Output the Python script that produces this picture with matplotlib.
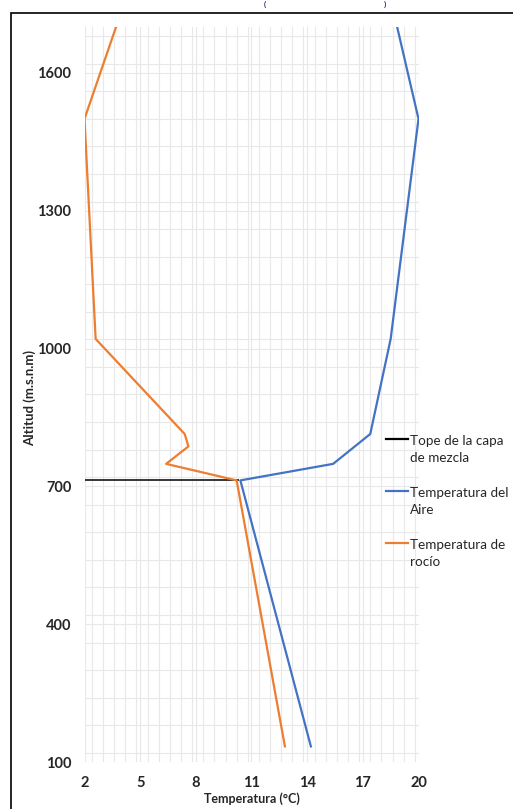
import matplotlib
matplotlib.use("Agg")
import matplotlib.pyplot as plt
from matplotlib.lines import Line2D
from matplotlib.patches import Rectangle
from matplotlib.ticker import MultipleLocator

plt.rcParams['font.family'] = ['Lato', 'DejaVu Sans']

# --- data ---
alt_aire = [134, 713, 749, 814, 1021, 1500, 1700]
temp_aire = [14.2, 10.4, 15.4, 17.4, 18.5, 20.0, 18.85]

alt_rocio = [134, 713, 749, 787, 814, 1021, 1500, 1700]
temp_rocio = [12.8, 10.2, 6.4, 7.6, 7.4, 2.6, 2.0, 3.7]

tope_alt = [713, 713]
tope_temp = [2.0, 10.3]

x_ticks = [2, 5, 8, 11, 14, 17, 20]
y_ticks = [100, 400, 700, 1000, 1300, 1600]

series_labels = ["Tope de la capa\nde mezcla", "Temperatura del\nAire", "Temperatura de\nrocío"]
series_colors = ["#000000", "#4472C4", "#ED7D31"]

W, H = 513, 809
fig = plt.figure(figsize=(W / 100, H / 100), dpi=100)
ax = fig.add_axes([84.5 / W, 1 - 762 / H, (418.5 - 84.5) / W, (762 - 27) / H])

ax.plot(tope_temp, tope_alt, color=series_colors[0], lw=1.1, solid_capstyle='butt')
ax.plot(temp_aire, alt_aire, color=series_colors[1], lw=1.6)
ax.plot(temp_rocio, alt_rocio, color=series_colors[2], lw=1.6)

ax.set_xlim(2, 20)
ax.set_ylim(100, 1700)
ax.set_xticks(x_ticks)
ax.set_yticks(y_ticks)
ax.xaxis.set_minor_locator(MultipleLocator(0.6))
ax.yaxis.set_minor_locator(MultipleLocator(60))
ax.grid(True, which='both', color='#E8E8E8', lw=0.8)
ax.set_axisbelow(True)
for s in ax.spines.values():
    s.set_visible(False)
ax.tick_params(which='both', length=0)
ax.tick_params(axis='x', pad=10)
ax.tick_params(axis='y', pad=9.5)
for lab in ax.get_xticklabels() + ax.get_yticklabels():
    lab.set_fontweight('bold')
    lab.set_fontsize(10.5)
    lab.set_color('#262626')

ax.set_xlabel("Temperatura (°C)", fontsize=9, fontweight='bold', color='#262626')
ax.set_ylabel("Altitud (m.s.n.m)", fontsize=9.5, fontweight='bold', color='#262626')
ax.xaxis.set_label_coords(0.5, (762 - 799) / 735, transform=ax.transAxes)
ax.yaxis.set_label_coords((30 - 84.5) / 334, 0.5 - 4 / 735, transform=ax.transAxes)
ax.xaxis.label.set_va('center')
ax.yaxis.label.set_va('center')

# outer border
fig.patches.append(Rectangle((10.5 / W, -0.1), 1.2, 1 - 13 / H + 0.1, transform=fig.transFigure,
                             fill=False, edgecolor='black', lw=1.2, clip_on=False))

# partially visible title (kept inside the image)
fig.text(265 / W, 1.0 - 1 / H, "(", color='#2E3192', fontsize=6, fontweight='bold', ha='center', va='top')
fig.text(385 / W, 1.0 - 1 / H, ")", color='#2E3192', fontsize=6, fontweight='bold', ha='center', va='top')

# legend
leg_y = [439, 491, 543]
for lab, col, y in zip(series_labels, series_colors, leg_y):
    fig.lines.append(Line2D([386 / W, 408 / W], [1 - y / H, 1 - y / H], transform=fig.transFigure,
                            color=col, lw=1.6))
    fig.text(410 / W, 1 - (y - 4) / H, lab, fontsize=9.7, color='#262626', ha='left', va='top',
             linespacing=1.55)

fig.savefig("out.png", dpi=100)
